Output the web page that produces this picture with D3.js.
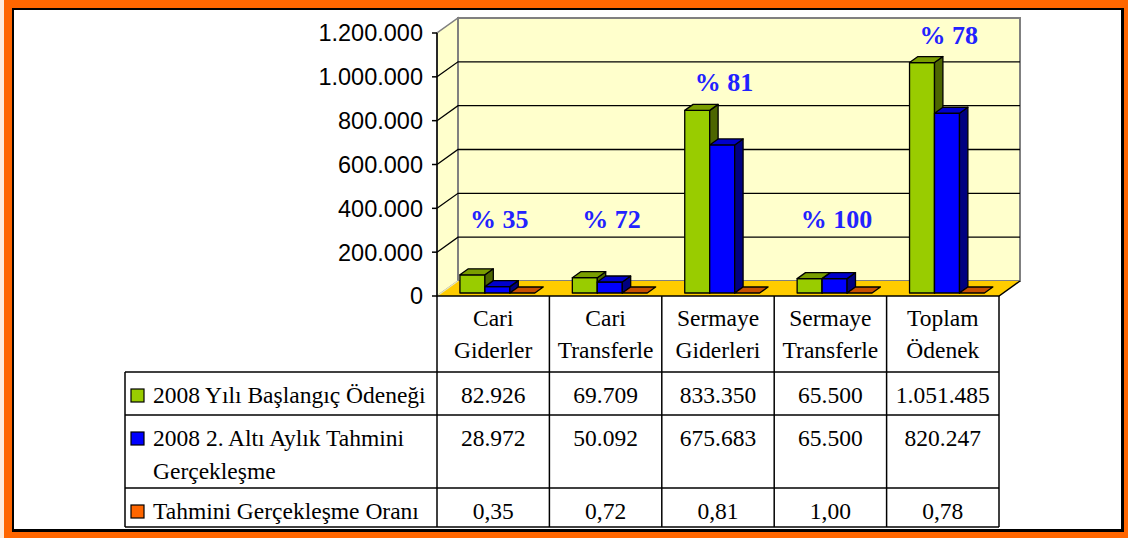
<!DOCTYPE html>
<html>
<head>
<meta charset="utf-8">
<script src="https://cdn.jsdelivr.net/npm/d3@7"></script>
<style>
  body { margin: 0; background: #fff; }
  svg { display: block; }
</style>
</head>
<body>
<script>
// kategori başlıkları (iki satır)
const categories = [
  ['Cari', 'Giderler'],
  ['Cari', 'Transferle'],
  ['Sermaye', 'Giderleri'],
  ['Sermaye', 'Transferle'],
  ['Toplam', 'Ödenek']
]
const seriesNames = [
  ['2008 Yılı Başlangıç Ödeneği'],
  ['2008 2. Altı Aylık Tahmini', 'Gerçekleşme'],
  ['Tahmini Gerçekleşme Oranı']
]
const baslangic = [82926, 69709, 833350, 65500, 1051485]
const gerceklesme = [28972, 50092, 675683, 65500, 820247]
const oran = [0.35, 0.72, 0.81, 1.0, 0.78]
const yTicks = [0, 200000, 400000, 600000, 800000, 1000000, 1200000]

const W = 1128
const H = 538

const tr = d3.formatLocale({ decimal: ',', thousands: '.', grouping: [3], currency: ['', ''] })
const fmtInt = tr.format(',d')
const fmtDec = tr.format(',.2f')

const svg = d3.select('body').append('svg').attr('width', W).attr('height', H)

// çerçeve
svg.append('rect').attr('width', W).attr('height', H).attr('fill', '#fdebdc')
svg.append('rect').attr('x', 4).attr('y', 0).attr('width', W - 4).attr('height', H).attr('fill', '#ff6600')
svg.append('rect').attr('x', 12).attr('y', 8).attr('width', 1112).attr('height', 524).attr('fill', '#000')
svg.append('rect').attr('x', 14).attr('y', 10).attr('width', 1107).attr('height', 519).attr('fill', '#fff')

// ölçekler
const x = d3.scaleBand().domain(d3.range(categories.length)).range([437, 999])
const y = d3.scaleLinear().domain([0, 1200000]).range([296, 33])
const xs = d3.scaleBand().domain([0, 1, 2]).range([0, x.bandwidth()]).paddingOuter(0.75)
const DX = 21
const DY = -15
const P = (px, py, z) => [px + z * DX, py + z * DY]
const pts = (arr) => arr.map((p) => p.join(',')).join(' ')

const x0 = x.range()[0]
const x1 = x.range()[1]
const yTop = y(1200000)
const yBot = y(0)

// sol duvar
svg.append('polygon')
  .attr('points', pts([P(x0, yBot, 0), P(x0, yTop, 0), P(x0, yTop, 1), P(x0, yBot, 1)]))
  .attr('fill', '#ffffcc')
  .attr('stroke', '#808080')
  .attr('stroke-width', 1.5)

// arka duvar
svg.append('polygon')
  .attr('points', pts([P(x0, yBot, 1), P(x0, yTop, 1), P(x1, yTop, 1), P(x1, yBot, 1)]))
  .attr('fill', '#ffffcc')
  .attr('stroke', '#808080')
  .attr('stroke-width', 2)

// taban
svg.append('polygon')
  .attr('points', pts([P(x0, yBot, 0), P(x1, yBot, 0), P(x1, yBot, 1), P(x0, yBot, 1)]))
  .attr('fill', '#ffcc00')
svg.append('line')
  .attr('x1', x0).attr('y1', yBot).attr('x2', x0 + DX).attr('y2', yBot + DY)
  .attr('stroke', '#e8e8c0').attr('stroke-width', 1.2)
svg.append('polyline')
  .attr('points', pts([P(x0, yBot, 0), P(x1, yBot, 0), P(x1, yBot, 1)]))
  .attr('fill', 'none').attr('stroke', '#000').attr('stroke-width', 1.5)

// ızgara çizgileri
const grid = svg.append('g').attr('stroke', '#000').attr('stroke-width', 1.3).attr('fill', 'none')
yTicks.filter((t) => t > 0 && t < 1200000).forEach((t) => {
  grid.append('polyline')
    .attr('points', pts([P(x0, y(t), 0), P(x0, y(t), 1), P(x1, y(t), 1)]))
})

// y ekseni
const axis = svg.append('g')
axis.append('line')
  .attr('x1', x0).attr('y1', yTop).attr('x2', x0).attr('y2', 527)
  .attr('stroke', '#000').attr('stroke-width', 1.5)
axis.selectAll('line.tick')
  .data(yTicks)
  .join('line')
  .attr('class', 'tick')
  .attr('x1', x0 - 5).attr('x2', x0)
  .attr('y1', (d) => y(d)).attr('y2', (d) => y(d))
  .attr('stroke', '#000').attr('stroke-width', 1.5)
axis.selectAll('text')
  .data(yTicks)
  .join('text')
  .attr('x', x0 - 14)
  .attr('y', (d) => y(d))
  .attr('dy', '0.36em')
  .attr('text-anchor', 'end')
  .style('font', '23.5px "Liberation Sans", Arial, sans-serif')
  .attr('fill', '#000')
  .text((d) => fmtInt(d))

// 3B sütunlar
const colors = [
  { front: '#99cc00', top: '#7a9e00', side: '#4d6600' },
  { front: '#0000ff', top: '#0000cc', side: '#000080' },
  { front: '#ff6600', top: '#c85000', side: '#803300' }
]
const series = [baslangic, gerceklesme, oran]
const zf = 0.2
const zb = 0.6
const bars = svg.append('g').attr('stroke', '#000').attr('stroke-width', 1.3).attr('stroke-linejoin', 'round')

categories.forEach((c, i) => {
  series.forEach((s, k) => {
    const bx0 = x(i) + xs(k)
    const bx1 = bx0 + xs.bandwidth()
    const by = y(s[i])
    const g = bars.append('g')
    if (yBot - by > 0.5) {
      g.append('polygon')
        .attr('points', pts([P(bx0, by, zf), P(bx1, by, zf), P(bx1, yBot, zf), P(bx0, yBot, zf)]))
        .attr('fill', colors[k].front)
      g.append('polygon')
        .attr('points', pts([P(bx1, by, zf), P(bx1, by, zb), P(bx1, yBot, zb), P(bx1, yBot, zf)]))
        .attr('fill', colors[k].side)
    }
    g.append('polygon')
      .attr('points', pts([P(bx0, by, zf), P(bx1, by, zf), P(bx1, by, zb), P(bx0, by, zb)]))
      .attr('fill', colors[k].top)
  })
})

// yüzde etiketleri
svg.append('g')
  .selectAll('text')
  .data(oran)
  .join('text')
  .attr('x', (d, i) => x(i) + x.bandwidth() / 2 + 6)
  .attr('y', (d, i) => Math.min(y(310000), y(baslangic[i]) - 22))
  .attr('text-anchor', 'middle')
  .style('font', 'bold 26px "Liberation Serif", "Times New Roman", serif')
  .attr('fill', '#2222ff')
  .text((d) => `% ${Math.round(d * 100)}`)

// veri tablosu
const rowTops = [372, 415, 488, 527]
const tableLeft = 125
const tbl = svg.append('g').attr('stroke', '#000').attr('stroke-width', 1.5)
rowTops.forEach((ry) => {
  tbl.append('line').attr('x1', tableLeft).attr('x2', x1).attr('y1', ry).attr('y2', ry)
})
tbl.append('line').attr('x1', tableLeft).attr('x2', tableLeft).attr('y1', rowTops[0]).attr('y2', rowTops[3])
categories.forEach((c, i) => {
  tbl.append('line')
    .attr('x1', x(i) + x.bandwidth()).attr('x2', x(i) + x.bandwidth())
    .attr('y1', yBot).attr('y2', rowTops[3])
})

const serif = '23.5px "Liberation Serif", "Times New Roman", serif'
const txt = svg.append('g').style('font', serif).attr('fill', '#000').attr('text-anchor', 'middle')

// başlık satırı
categories.forEach((lines, i) => {
  lines.forEach((l, j) => {
    txt.append('text')
      .attr('x', x(i) + x.bandwidth() / 2)
      .attr('y', 326 + j * 32)
      .text(l)
  })
})

// değer satırları
const rowText = [
  baslangic.map(fmtInt),
  gerceklesme.map(fmtInt),
  oran.map(fmtDec)
]
rowText.forEach((vals, r) => {
  vals.forEach((v, i) => {
    txt.append('text')
      .attr('x', x(i) + x.bandwidth() / 2)
      .attr('y', rowTops[r] + 31)
      .text(v)
  })
})

// gösterge sütunu
seriesNames.forEach((lines, r) => {
  const base = rowTops[r] + 31
  svg.append('rect')
    .attr('x', 131).attr('y', base - 14)
    .attr('width', 13).attr('height', 13)
    .attr('fill', colors[r].front)
    .attr('stroke', '#000').attr('stroke-width', 1.2)
  lines.forEach((l, j) => {
    svg.append('text')
      .attr('x', 153)
      .attr('y', base + j * 33)
      .style('font', serif)
      .attr('fill', '#000')
      .text(l)
  })
})
</script>
</body>
</html>
